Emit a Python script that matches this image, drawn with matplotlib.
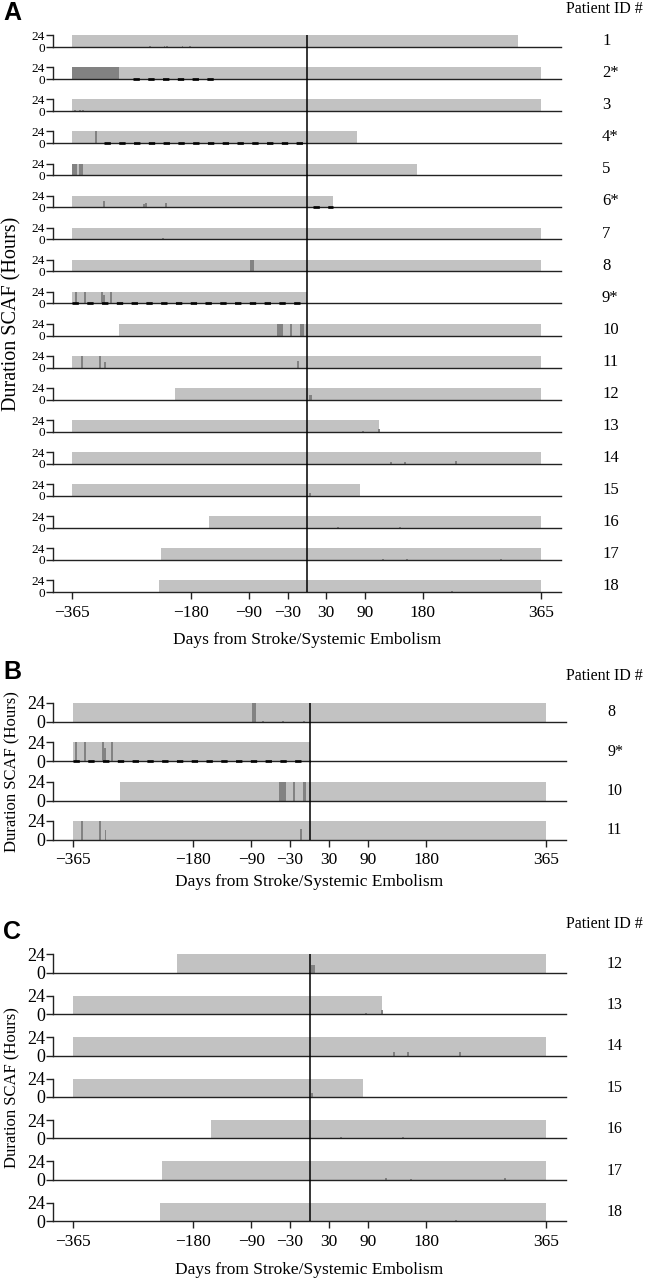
import matplotlib.pyplot as plt

plt.rcParams['font.family'] = ['Liberation Serif', 'DejaVu Serif']

# ---- data (days relative to stroke / systemic embolism) ----
patient_ids = ['1', '2*', '3', '4*', '5', '6*', '7', '8', '9*', '10',
               '11', '12', '13', '14', '15', '16', '17', '18']
monitor_start = [-365, -365, -365, -365, -365, -365, -365, -365, -365, -292,
                 -365, -205, -365, -365, -365, -152, -227, -230]
monitor_end = [328, 365, 365, 78, 171, 41, 365, 365, 0, 365,
               365, 365, 112, 365, 83, 365, 365, 365]

# SCAF episodes per patient: start day, length in days, duration in hours
scaf_day = [
    [-245, -223, -219, -195, -184],
    [-365],
    [-362, -354, -350],
    [-330],
    [-365, -354, -314, -275, -270, -210, -182],
    [-317, -255, -252, -230, -220],
    [-322, -226, -219, -210, -182],
    [-88, -73, -42, -10],
    [-361, -347, -320, -317, -306],
    [-47, -26, -10],
    [-352, -324, -316, -15],
    [3],
    [86, 111],
    [129, 151, 230],
    [3],
    [47, 143],
    [117, 155, 300],
    [217, 225, 243],
]
scaf_len = [
    [3, 3, 3, 3, 3],
    [73],
    [3, 3, 3],
    [3],
    [7, 6, 3, 3, 3, 3, 3],
    [3, 3, 3, 3, 3],
    [3, 3, 3, 3, 3],
    [6, 3, 3, 3],
    [3, 3, 3, 3, 3],
    [10, 3, 5],
    [3, 3, 3, 3],
    [5],
    [3, 3],
    [3, 3, 3],
    [3],
    [3, 3],
    [3, 3, 3],
    [3, 3, 3],
]
scaf_hours = [
    [1.5, 1.5, 1.5, 1.5, 1.5],
    [24],
    [3, 1.5, 1.5],
    [24],
    [24, 24, 1.5, 1.5, 1.5, 1.5, 1.5],
    [12, 6, 8, 1, 8.5],
    [1.5, 2, 1.5, 1, 1.5],
    [24, 1, 1, 1.5],
    [24, 24, 24, 17, 24],
    [24, 24, 24],
    [24, 24, 12, 14],
    [10],
    [1, 5],
    [4, 4, 5],
    [5],
    [1.5, 1.5],
    [2, 1, 2],
    [1, 1.5, 1],
]

# anticoagulation periods (dashed lines)
anticoag_patient = ['2*', '4*', '6*', '9*']
anticoag_start = [-270, -316, 10, -365]
anticoag_end = [-138, 0, 41, 0]

x_ticks = [-365, -180, -90, -30, 30, 90, 180, 365]
x_tick_labels = ['\u2212365', '\u2212180', '\u221290', '\u221230', '30', '90', '180', '365']

BAR_GREY = '#c2c2c2'
SCAF_GREY = '#828282'
W, H = 651, 1280

fig = plt.figure(figsize=(W / 100, H / 100), dpi=100)


def draw_panel(letter, rows, first_bottom, pitch, height, left, right,
               tick_fs, id_fs, id_x, header_y, letter_y, ylab_fs, xlab_y):
    n = len(rows)
    for k, i in enumerate(rows):
        bottom = first_bottom + k * pitch
        ax = fig.add_axes([left / W, 1 - bottom / H, (right - left) / W, height / H])
        ax.set_xlim(-395, 395)
        ax.set_ylim(0, 24)
        ax.bar(monitor_start[i], 24, width=monitor_end[i] - monitor_start[i],
               align='edge', color=BAR_GREY, linewidth=0)
        ax.bar(scaf_day[i], scaf_hours[i], width=scaf_len[i], align='edge',
               color=SCAF_GREY, linewidth=0)
        pid = patient_ids[i]
        if pid in anticoag_patient:
            j = anticoag_patient.index(pid)
            ax.plot([anticoag_start[j], anticoag_end[j]], [0.6, 0.6], color='black',
                    lw=1.9, dashes=(2.4, 3.2), clip_on=False, zorder=5)
        for s in ['top', 'right']:
            ax.spines[s].set_visible(False)
        for s in ['left', 'bottom']:
            ax.spines[s].set_color('#222222')
            ax.spines[s].set_linewidth(1.0)
        ax.set_yticks([0, 24])
        ax.set_yticklabels(['0', '24'], fontsize=tick_fs)
        ax.tick_params(axis='y', length=5, width=1.0, pad=1, color='#222222')
        if k == n - 1:
            ax.set_xticks(x_ticks)
            ax.set_xticklabels(x_tick_labels, fontsize=12.5)
            ax.tick_params(axis='x', length=5, width=1.0, pad=4, color='#222222')
        else:
            ax.set_xticks([])
        ax.patch.set_visible(False)
        fig.text(id_x / W, 1 - (bottom - height / 2) / H, pid, fontsize=id_fs,
                 ha='left', va='center')

    # vertical line at day 0 across all rows
    top = first_bottom - height
    last = first_bottom + (n - 1) * pitch
    ov = fig.add_axes([left / W, 1 - last / H, (right - left) / W, (last - top) / H])
    ov.set_xlim(-395, 395)
    ov.axvline(0, color='black', lw=1.1)
    ov.axis('off')

    fig.text(604 / W, 1 - header_y / H, 'Patient ID #', fontsize=11.5, ha='center', va='center')
    fig.text(3 / W, 1 - letter_y / H, letter, fontsize=18, fontweight='bold',
             family='Liberation Sans', ha='left', va='center')
    fig.text(12 / W, 1 - (top + last) / 2 / H, 'Duration SCAF (Hours)', rotation=90,
             fontsize=ylab_fs, ha='center', va='center')
    fig.text((left + right) / 2 / W, 1 - xlab_y / H, 'Days from Stroke/Systemic Embolism',
             fontsize=12.5, ha='center', va='center')


draw_panel('A', list(range(18)), 47, 32.06, 11.7, 53, 560.7,
           9.5, 12, 602, 9, 13, 14.5, 640)
draw_panel('B', list(range(7, 11)), 721.7, 39.43, 19, 53.3, 565.7,
           13, 11.5, 607, 676, 672, 12, 882)
draw_panel('C', list(range(11, 18)), 972.7, 41.43, 18.4, 53.3, 565.7,
           13, 11.5, 607, 924, 932, 12, 1270)

fig.savefig('out.png', dpi=100)
